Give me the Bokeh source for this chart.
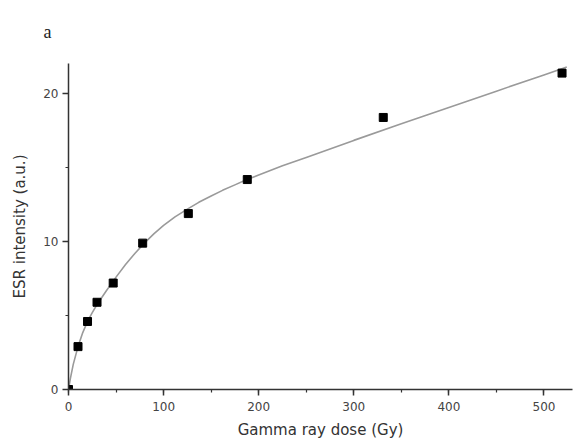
from bokeh.plotting import figure
from bokeh.models import Range1d, SingleIntervalTicker
from bokeh.embed import file_html
from bokeh.resources import INLINE

# measured data points
dose = [0, 10, 20, 30, 47, 78, 126, 188, 331, 519]
esr = [0.0, 2.9, 4.6, 5.9, 7.2, 9.9, 11.9, 14.2, 18.4, 21.4]

# fitted curve
curve_x = [0, 2, 5, 10, 15, 20, 25, 30, 40, 50, 60, 70, 80, 90, 100, 112, 125, 137,
           150, 162, 175, 187, 200, 225, 250, 300, 350, 400, 450, 500, 524]
curve_y = [0.0, 0.75, 1.7, 2.9, 3.85, 4.6, 5.2, 5.75, 6.7, 7.6, 8.45, 9.22, 9.92, 10.54,
           11.1, 11.68, 12.2, 12.66, 13.09, 13.47, 13.84, 14.18, 14.51, 15.13, 15.7,
           16.85, 17.97, 19.08, 20.18, 21.28, 21.81]

x_label = "Gamma ray dose (Gy)"
y_label = "ESR intensity (a.u.)"
panel_label = "a"

p = figure(width=575, height=446, output_backend="svg", toolbar_location=None,
           x_range=Range1d(0, 530), y_range=Range1d(0, 22.05),
           min_border_left=68, min_border_right=3, min_border_top=63, min_border_bottom=57)
p.outline_line_color = None
p.xgrid.visible = False
p.ygrid.visible = False
p.background_fill_color = "white"
p.border_fill_color = "white"

p.title.text = panel_label
p.title.align = "left"
p.title.vertical_align = "top"
p.title.offset = -25
p.title.standoff = 40
p.title.text_font = "Liberation Serif"
p.title.text_font_size = "18px"
p.title.text_font_style = "normal"
p.title.text_color = "#222222"

p.line(curve_x, curve_y, line_color="#9a9a9a", line_width=1.6)
p.scatter(dose, esr, marker="square", size=8, fill_color="black", line_color="black")

for ax in (p.xaxis[0], p.yaxis[0]):
    ax.axis_line_color = "#333333"
    ax.axis_line_width = 1.5
    ax.major_tick_line_color = "#333333"
    ax.minor_tick_line_color = "#333333"
    ax.major_tick_line_width = 1.5
    ax.minor_tick_line_width = 1.2
    ax.major_tick_in = 0
    ax.major_tick_out = 6
    ax.minor_tick_in = 0
    ax.minor_tick_out = 3
    ax.major_label_text_font = "DejaVu Sans"
    ax.major_label_text_font_size = "12px"
    ax.major_label_text_color = "#444444"
    ax.axis_label_text_font = "DejaVu Sans"
    ax.axis_label_text_font_size = "15px"
    ax.axis_label_text_font_style = "normal"
    ax.axis_label_text_color = "#333333"

p.xaxis[0].ticker = SingleIntervalTicker(interval=100, num_minor_ticks=2)
p.yaxis[0].ticker = SingleIntervalTicker(interval=10, num_minor_ticks=2)
p.xaxis[0].axis_label = x_label
p.yaxis[0].axis_label = y_label
p.xaxis[0].major_label_standoff = 6
p.xaxis[0].axis_label_standoff = 7
p.yaxis[0].major_label_standoff = 4
p.yaxis[0].axis_label_standoff = 11

open("out.html", "w").write(file_html(p, INLINE))
